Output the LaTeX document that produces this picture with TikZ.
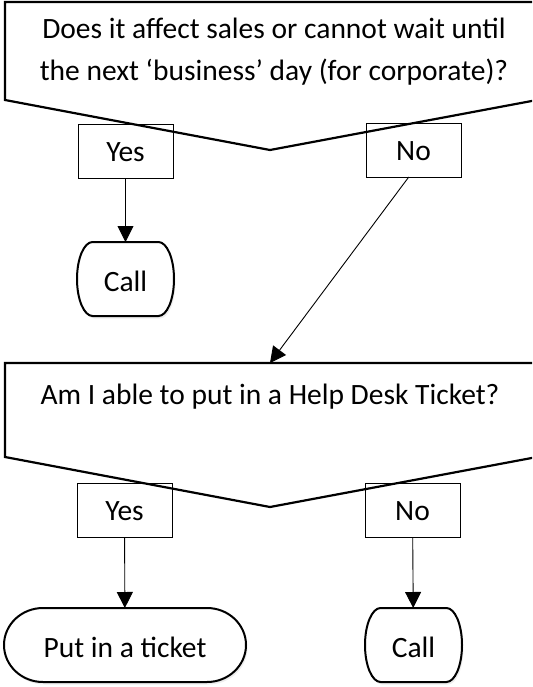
\documentclass[tikz,border=0pt]{standalone}
\usepackage{fontspec}
\setmainfont{Carlito}
\usepackage{tikz}
\usetikzlibrary{arrows.meta}
\usetikzlibrary{calc}
\usetikzlibrary{shadows}
\usetikzlibrary{backgrounds}
\definecolor{mshadow}{RGB}{110,110,110}

\tikzset{
  answer/.style={draw, line width=0.9pt, minimum width=95pt, minimum height=54pt, text height=21pt, text depth=0pt},
  terminal/.style={minimum height=74pt, text height=25pt, text depth=0pt},
  outline/.style={line width=2.2pt, line join=miter},
  flow/.style={line width=0.9pt, -{Triangle[length=16pt, width=16pt]}},
}

% rounded ends, #1 node name, #2 end radius (pt); y axis points down
\newcommand{\termoutline}[2]{%
  \begin{pgfonlayer}{background}
  \draw[line width=2pt, fill=white, drop shadow={shadow xshift=1.5pt, shadow yshift=-2.5pt, opacity=0.12, fill=mshadow}]
    ($(#1.north west)+(#2,0)$) -- ($(#1.north east)+(-#2,0)$)
    arc[start angle=-90, end angle=90, x radius=#2, y radius=37]
    -- ($(#1.south west)+(#2,0)$)
    arc[start angle=90, end angle=270, x radius=#2, y radius=37] -- cycle;
  \end{pgfonlayer}}

\begin{document}
\begin{tikzpicture}[y=1pt, x=1pt, yscale=-1, inner sep=0pt, outer sep=0pt, font=\fontsize{29.5}{42}\selectfont]

\useasboundingbox (0,0) rectangle (532,687);
\clip (0,0) rectangle (532,687);

% first question
\draw[outline] (5,2) -- (537,2) -- (537,100) -- (270,150) -- (5,100) -- cycle;
\node[align=center] (q1) at (274,51.5) {Does it affect sales or cannot wait until\\the next ‘business’ day (for corporate)?};

\node[answer] (yes1) at (125.5,151) {Yes};
\node[answer] (no1)  at (413.5,150) {No};

\node[terminal, minimum width=97pt] (call1) at (125.5,279) {Call};
\termoutline{call1}{15.6}

% second question
\draw[outline] (5,363) -- (537,363) -- (537,457) -- (270,507) -- (5,457) -- cycle;
\coordinate (q2top) at (270,363);
\node[anchor=base] (q2) at (270,404) {Am I able to put in a Help Desk Ticket?};

\node[answer] (yes2) at (124.5,510) {Yes};
\node[answer] (no2)  at (412.5,510) {No};

\node[terminal, minimum width=242pt] (ticket) at (125,645) {Put in a ticket};
\termoutline{ticket}{39}
\node[terminal, minimum width=97pt] (call2) at (413.5,645) {Call};
\termoutline{call2}{15.6}

% arrows
\draw[flow] (yes1) -- (call1);
\draw[flow] (no1.260) -- (q2top);
\draw[flow] (yes2) -- (ticket);
\draw[flow] (no2) -- (call2);

\end{tikzpicture}
\end{document}
